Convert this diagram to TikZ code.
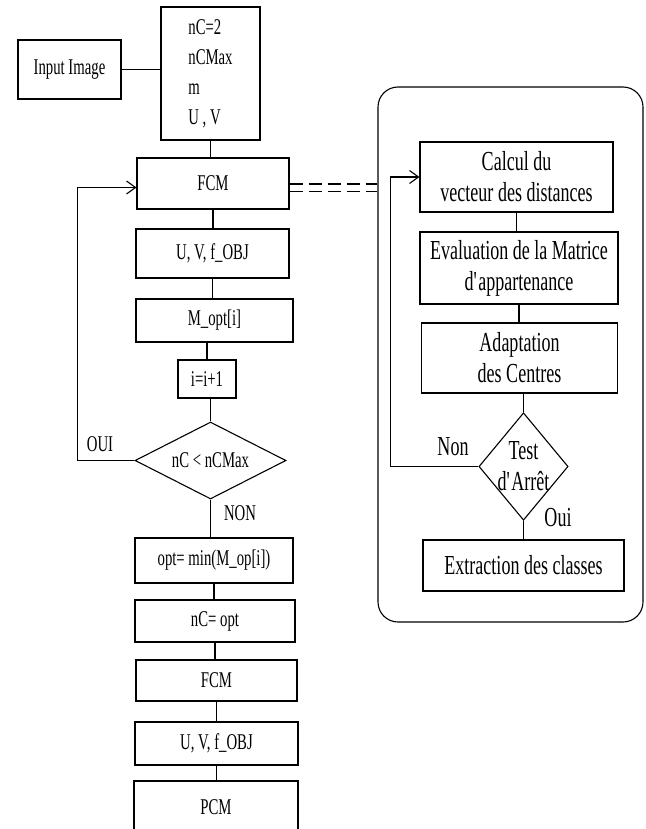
\documentclass[tikz,border=0pt]{standalone}
\usepackage{fontspec}
\setmainfont[FakeStretch=0.655]{Liberation Serif}
\usetikzlibrary{positioning,shapes.geometric,arrows.meta}

\begin{document}
\begin{tikzpicture}[
    x=1pt, y=-1pt,
    every node/.style={inner sep=0pt, line width=1.1pt},
    box/.style={draw, rectangle, font=\fontsize{22.5}{30}\selectfont},
    rbox/.style={draw, rectangle, align=center, font=\fontsize{27.5}{31}\selectfont},
    decision/.style={draw, diamond, align=center},
    lbl/.style={font=\fontsize{22.5}{27}\selectfont},
    rlbl/.style={font=\fontsize{27.5}{31}\selectfont},
    link/.style={line width=1.1pt},
    arrow/.style={-{Straight Barb[length=9pt,width=13pt]}, line width=1.1pt},
    pipe/.style={double, double distance=6pt, line width=1pt, dash pattern=on 13pt off 6pt}
]
\useasboundingbox (0,0) rectangle (645,829);
\clip (0,0) rectangle (645,829);

% Frame of the FCM algorithm on the right
\node[draw, rounded corners=20pt, minimum width=265, minimum height=535] (algo) at (510.5,354.5) {};

% Left column - initialisation
\node[box, minimum width=103, minimum height=59] (input) at (69.5,69.5) {Input Image};
\node[box, align=left, minimum width=99, minimum height=133] (init) at (210.5,73.5) {nC=2\\nCMax\\m\\U , V};

% Left column - search loop
\node[box, minimum width=152, minimum height=51] (fcm) at (213,183.5) {FCM};
\node[box, minimum width=153, minimum height=49] (uvf) at (212.5,253.5) {U, V, f\_OBJ};
\node[box, minimum width=157, minimum height=43] (mopt) at (214.5,320.5) {M\_opt[i]};
\node[box, minimum width=58, minimum height=38] (incr) at (207,379) {i=i+1};
\node[decision, aspect=2, minimum width=151, minimum height=77, font=\fontsize{22.5}{27}\selectfont] (cond) at (210.5,460.5) {nC < nCMax};

% Left column - final run
\node[box, minimum width=158, minimum height=45] (optmin) at (214,560.5) {opt= min(M\_op[i])};
\node[box, minimum width=160, minimum height=42] (ncopt) at (215,621) {nC= opt};
\node[box, minimum width=161, minimum height=41] (fcmb) at (216.5,680.5) {FCM};
\node[box, minimum width=163, minimum height=43] (uvfb) at (216.5,743.5) {U, V, f\_OBJ};
\node[box, minimum width=164, minimum height=52] (pcm) at (216,807) {PCM};

% Right column - steps of FCM
\node[rbox, minimum width=193, minimum height=70] (calc) at (516.5,177) {Calcul du\\vecteur des distances};
\node[rbox, minimum width=198, minimum height=72] (eval) at (519,268) {Evaluation de la Matrice\\d\textquotesingle appartenance};
\node[rbox, minimum width=196, minimum height=70] (adapt) at (519.5,358) {Adaptation\\des Centres};
\node[decision, aspect=0.83, inner sep=-1pt, minimum width=89, minimum height=107, font=\fontsize{27.5}{31}\selectfont] (test) at (523.5,466.5) {Test\\d\textquotesingle Arrêt};
\node[rbox, minimum width=201, minimum height=51] (extr) at (523.5,565.5) {Extraction des classes};

% Labels of the decisions
\node[lbl] (oui) at (100,444) {OUI};
\node[lbl] (non) at (240,513) {NON};
\node[rlbl] (nonb) at (453,447) {Non};
\node[rlbl] (ouib) at (558,518) {Oui};

% Connections
\draw[link] (input.east) -- (input.east -| init.west);
\draw[link] (init.south) -- (init.south |- fcm.north);
\draw[link] (fcm.south) -- (fcm.south |- uvf.north);
\draw[link] (uvf.south) -- (uvf.south |- mopt.north);
\draw[link] (incr.north |- mopt.south) -- (incr.north);
\draw[link] (cond.north |- incr.south) -- (cond.north);
\draw[link] (cond.south) -- (cond.south |- optmin.north);
\draw[link] (optmin.south) -- (optmin.south |- ncopt.north);
\draw[link] (ncopt.south) -- (ncopt.south |- fcmb.north);
\draw[link] (fcmb.south) -- (fcmb.south |- uvfb.north);
\draw[link] (uvfb.south) -- (uvfb.south |- pcm.north);
\draw[link] (calc.south) -- (calc.south |- eval.north);
\draw[link] (eval.south) -- (eval.south |- adapt.north);
\draw[link] (test.north |- adapt.south) -- (test.north);
\draw[link] (test.south) -- (test.south |- extr.north);

% Loops back
\draw[arrow] (cond.west) -- ++(-57,0) |- ([yshift=-4pt]fcm.west);
\draw[arrow] (test.west) -- ++(-88,0) |- (calc.west);

% FCM detailed on the right
\draw[pipe] ([yshift=-4pt]fcm.east) -- ([yshift=-4pt]fcm.east -| algo.west);

\end{tikzpicture}
\end{document}
